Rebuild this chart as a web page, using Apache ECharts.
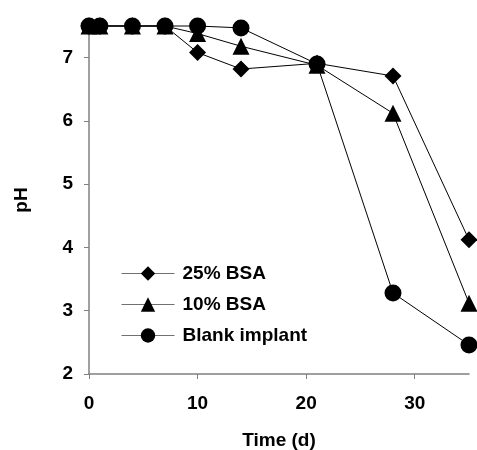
<!DOCTYPE html>
<html>
<head>
<meta charset="utf-8">
<script src="https://cdn.jsdelivr.net/npm/echarts@6/dist/echarts.min.js"></script>
<style>
  html, body { margin: 0; padding: 0; background: #fff; }
  #chart { width: 477px; height: 450px; }
</style>
</head>
<body>
<div id="chart"></div>
<script>
// Sampling days
const days = [0, 1, 4, 7, 10, 14, 21, 28, 35];

// pH readings for each formulation
const bsa25 = [7.5, 7.5, 7.5, 7.5, 7.08, 6.82, 6.91, 6.71, 4.12];
const bsa10 = [7.5, 7.5, 7.5, 7.5, 7.38, 7.18, 6.88, 6.12, 3.12];
const blank = [7.5, 7.5, 7.5, 7.5, 7.5, 7.47, 6.9, 3.28, 2.46];

// Axis ticks
const xTicks = [0, 10, 20, 30];
const yTicks = [2, 3, 4, 5, 6, 7];

const seriesNames = ['25% BSA', '10% BSA', 'Blank implant'];

const FONT = 'Liberation Sans, Arial, sans-serif';
const AXIS_GREY = '#808080';

function pairs(ys) {
  return days.map((d, i) => [d, ys[i]]);
}

function lineSeries(name, ys, symbol, size) {
  return {
    name: name,
    type: 'line',
    data: pairs(ys),
    symbol: symbol,
    symbolSize: size,
    showAllSymbol: true,
    clip: false,
    lineStyle: { color: '#000', width: 1 },
    itemStyle: { color: '#000' },
    emphasis: { disabled: true },
    animation: false
  };
}

const chart = echarts.init(document.getElementById('chart'), null, { renderer: 'canvas' });

chart.setOption({
  backgroundColor: '#fff',
  animation: false,
  grid: { left: 89, right: 8, top: 26, bottom: 76, containLabel: false, outerBoundsMode: 'none' },
  legend: {
    orient: 'vertical',
    left: 121,
    top: 264,
    padding: 0,
    itemWidth: 53,
    itemHeight: 18,
    itemGap: 12,
    data: seriesNames,
    textStyle: { fontFamily: FONT, fontWeight: 'bold', fontSize: 19, color: '#000', lineHeight: 18, padding: [0, 0, 0, 3] },
    lineStyle: { color: '#707070', width: 1 }
  },
  xAxis: {
    type: 'value',
    min: 0,
    max: 35,
    interval: 10,
    name: 'Time (d)',
    nameLocation: 'middle',
    nameGap: 57,
    nameTextStyle: { fontFamily: FONT, fontWeight: 'bold', fontSize: 19, color: '#000' },
    axisLine: { show: true, onZero: false, lineStyle: { color: AXIS_GREY, width: 1.5 } },
    axisTick: { show: true, length: 5, inside: false, customValues: xTicks, lineStyle: { color: AXIS_GREY } },
    axisLabel: { customValues: xTicks, margin: 20, fontFamily: FONT, fontWeight: 'bold', fontSize: 19, color: '#000' },
    splitLine: { show: false }
  },
  yAxis: {
    type: 'value',
    min: 2,
    max: 7.5,
    interval: 1,
    name: 'pH',
    nameLocation: 'middle',
    nameGap: 58,
    nameRotate: 90,
    nameTextStyle: { fontFamily: FONT, fontWeight: 'bold', fontSize: 19, color: '#000' },
    axisLine: { show: true, onZero: false, lineStyle: { color: AXIS_GREY, width: 1.5 } },
    axisTick: { show: true, length: 5, inside: false, customValues: yTicks, lineStyle: { color: AXIS_GREY } },
    axisLabel: { customValues: yTicks, margin: 16, fontFamily: FONT, fontWeight: 'bold', fontSize: 19, color: '#000' },
    splitLine: { show: false }
  },
  series: [
    lineSeries(seriesNames[0], bsa25, 'diamond', 17),
    lineSeries(seriesNames[1], bsa10, 'triangle', 17),
    lineSeries(seriesNames[2], blank, 'circle', 17)
  ]
});
</script>
</body>
</html>
